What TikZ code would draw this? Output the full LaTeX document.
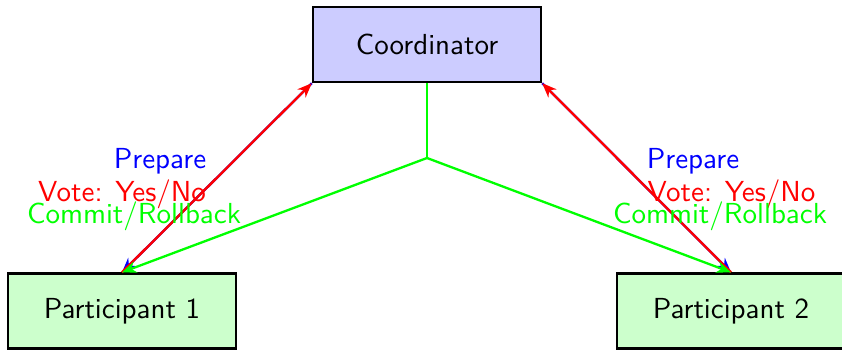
\documentclass[tikz,border=0pt]{standalone}
\usetikzlibrary{arrows.meta}
\begin{document}
\begin{tikzpicture}[x=0.345pt,y=-0.345pt,
  every node/.style={font=\sffamily},
  box/.style={draw=black, thick, minimum width=78.7pt, minimum height=25.9pt, inner sep=0pt},
  arr/.style={-{Stealth[length=5pt,width=4pt]}, thick},
  lbl/.style={anchor=base, inner sep=0pt}]
\useasboundingbox (0,0) rectangle (842,350);
\node[box, fill=blue!20] (coord) at (427,44.5) {Coordinator};
\node[box, fill=green!20] (p1) at (122,311) {Participant 1};
\node[box, fill=green!20] (p2) at (731,311) {Participant 2};
\coordinate (mid) at (427,158);
\draw[arr, blue] (coord.south west) -- (p1.north);
\draw[arr, blue] (coord.south east) -- (p2.north);
\draw[arr, red] (p1.north) -- (coord.south west);
\draw[arr, red] (p2.north) -- (coord.south east);
\draw[thick, green] (coord.south) -- (mid);
\draw[arr, green] (mid) -- (p1.north);
\draw[arr, green] (mid) -- (p2.north);
\node[lbl, blue] (l1) at (160,168) {Prepare};
\node[lbl, red] (l2) at (122,201) {Vote: Yes/No};
\node[lbl, green] (l3) at (134,223) {Commit/Rollback};
\node[lbl, blue] (r1) at (693,168) {Prepare};
\node[lbl, red] (r2) at (731.5,201) {Vote: Yes/No};
\node[lbl, green] (r3) at (720,223) {Commit/Rollback};
\end{tikzpicture}
\end{document}
